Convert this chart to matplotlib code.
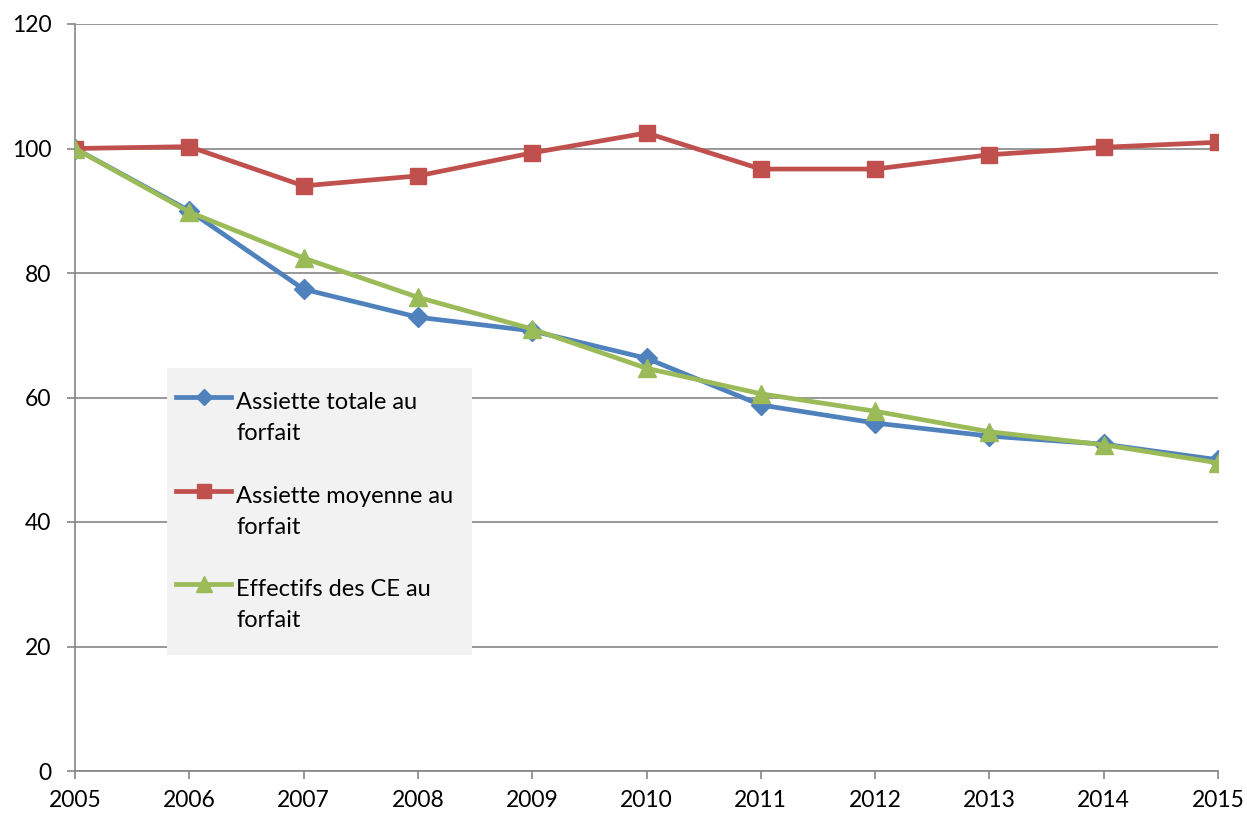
import matplotlib
matplotlib.use('Agg')
import numpy as np
from matplotlib import pyplot as plt
from matplotlib.legend_handler import HandlerLine2D
from matplotlib.patches import Rectangle

plt.rcParams['font.family'] = ['Lato', 'DejaVu Sans']

annees = list(range(2005, 2016))
assiette_totale = [100, 90.0, 77.4, 72.9, 70.7, 66.3, 58.8, 55.9, 53.8, 52.5, 50.0]
assiette_moyenne = [100, 100.3, 94.0, 95.6, 99.3, 102.5, 96.7, 96.7, 99.0, 100.2, 101.0]
effectifs_ce = [100, 89.8, 82.4, 76.1, 71.0, 64.7, 60.6, 57.8, 54.5, 52.4, 49.5]

labels = ['Assiette totale au\nforfait', 'Assiette moyenne au\nforfait', 'Effectifs des CE au\nforfait']


# la poignée de légende est alignée sur la première ligne du texte (comme Excel)
class HandlerHaut(HandlerLine2D):
    def create_artists(self, legend, orig_handle, xdescent, ydescent, width, height, fontsize, trans):
        arts = super().create_artists(legend, orig_handle, xdescent, ydescent, width, height, fontsize, trans)
        for a in arts:
            a.set_ydata(np.asarray(a.get_ydata()) + 0.9 * fontsize)
        return arts


W, H = 1247, 814
fig = plt.figure(figsize=(W / 100, H / 100), dpi=100)
ax = fig.add_axes([75 / W, 1 - 771 / H, (1218 - 75) / W, (771 - 24) / H])

l1, = ax.plot(annees, assiette_totale, color='#4F81BD', lw=3.4, marker='D', ms=10, label=labels[0], zorder=3)
l2, = ax.plot(annees, assiette_moyenne, color='#C0504D', lw=3.4, marker='s', ms=12, label=labels[1], zorder=3)
l3, = ax.plot(annees, effectifs_ce, color='#9BBB59', lw=3.4, marker='^', ms=13, label=labels[2], zorder=4)

ax.set_xlim(2005, 2015)
ax.set_ylim(0, 120)
ax.set_xticks(annees)
ax.set_yticks(range(0, 121, 20))
ax.grid(axis='y', color='#868686', lw=1.2)
ax.set_axisbelow(True)
for s in ['top', 'right']:
    ax.spines[s].set_visible(False)
for s in ['left', 'bottom']:
    ax.spines[s].set_color('#868686')
    ax.spines[s].set_linewidth(1.2)
ax.tick_params(axis='both', colors='#868686', labelcolor='black', labelsize=16.5, length=6, width=1.2)
ax.tick_params(axis='y', pad=11)
ax.tick_params(axis='x', pad=8)

# fond gris de la légende
ax.add_patch(Rectangle((167 / W, 1 - 655 / H), 305 / W, 287 / H, transform=fig.transFigure,
                       facecolor='#F2F2F2', edgecolor='none', zorder=2.5, clip_on=False))

h = HandlerHaut()
leg = ax.legend(loc='upper left', bbox_to_anchor=(176 / W, 1 - 392 / H), bbox_transform=fig.transFigure,
                fontsize=17, frameon=False, borderaxespad=0, handlelength=2.35, handletextpad=0.2,
                labelspacing=1.75, borderpad=0, markerscale=0.85, handler_map={l1: h, l2: h, l3: h})
for t in leg.get_texts():
    t.set_linespacing(1.6)

fig.savefig('out.png', dpi=100)
